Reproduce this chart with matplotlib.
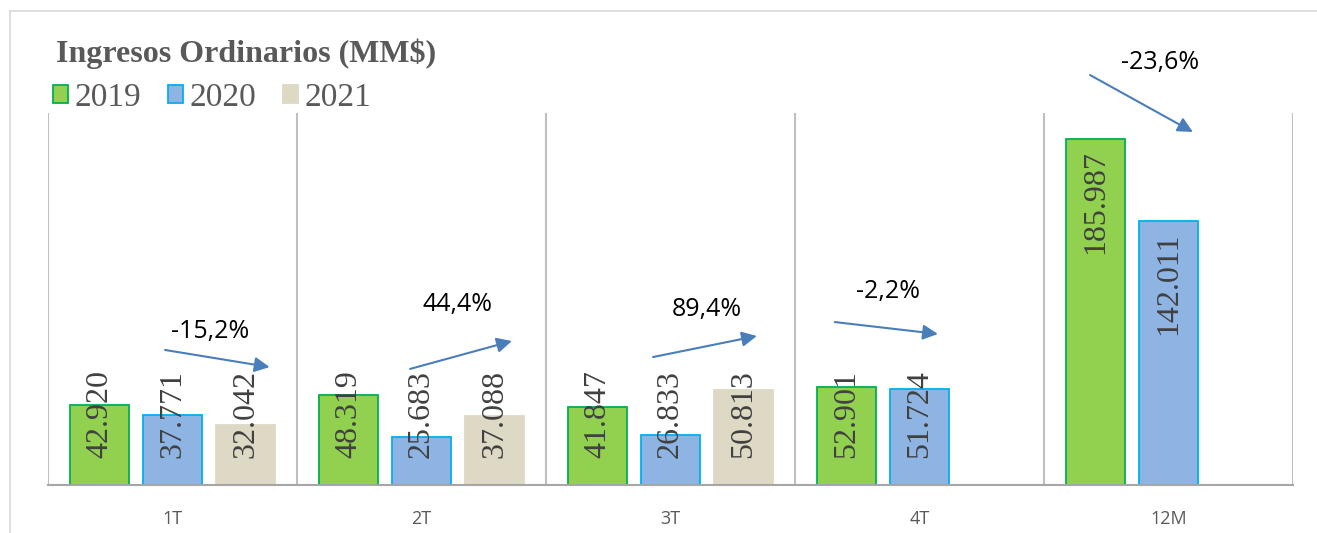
import matplotlib.pyplot as plt
from matplotlib.lines import Line2D
from matplotlib.patches import Patch

# data
periods = ["1T", "2T", "3T", "4T", "12M"]
years = ["2019", "2020", "2021"]
v2019 = [42.920, 48.319, 41.847, 52.901, 185.987]
v2020 = [37.771, 25.683, 26.833, 51.724, 142.011]
v2021 = [32.042, 37.088, 50.813, None, None]
labels_2019 = ["42.920", "48.319", "41.847", "52.901", "185.987"]
labels_2020 = ["37.771", "25.683", "26.833", "51.724", "142.011"]
labels_2021 = ["32.042", "37.088", "50.813", "", ""]
changes = ["-15,2%", "44,4%", "89,4%", "-2,2%", "-23,6%"]

# arrow annotations (start x, start y, end x, end y, label x, label y) in data units
arrows = [
    (-0.03, 72.6, 0.39, 63.4, 0.15, 82.3),
    (0.954, 62.4, 1.363, 77.4, 1.143, 97.3),
    (1.93, 68.8, 2.347, 80.1, 2.147, 94.6),
    (2.66, 87.6, 3.074, 81.2, 2.873, 104.3),
    (3.685, 220.4, 4.098, 189.8, 3.966, 227.4),
]

fills = ["#92D050", "#8EB4E3", "#DDD9C4"]
edges = ["#00B050", "#00B0F0", "#DDD9C4"]
serif = ["Liberation Serif", "DejaVu Serif"]

fig = plt.figure(figsize=(13.17, 5.33), dpi=100)
ax = fig.add_axes([48 / 1317, 48 / 533, 1245 / 1317, 372 / 533])

# outer chart border (top and left)
fig.add_artist(Line2D([10 / 1317, 1.0], [1 - 11 / 533, 1 - 11 / 533],
                      transform=fig.transFigure, color="#D9D9D9", lw=1.2))
fig.add_artist(Line2D([10 / 1317, 10 / 1317], [0, 1 - 11 / 533],
                      transform=fig.transFigure, color="#D9D9D9", lw=1.2))

offs = [-0.293, 0.0, 0.293]
width = 0.237
series = [v2019, v2020, v2021]
lab_sets = [labels_2019, labels_2020, labels_2021]
for s, (vals, labs) in enumerate(zip(series, lab_sets)):
    for i, v in enumerate(vals):
        if v is None:
            continue
        x = i + offs[s]
        ax.bar(x, v, width, color=fills[s], edgecolor=edges[s], linewidth=1.3, zorder=2)
        if v > 100:
            ax.text(x, v - 6, labs[i], rotation=90, ha="center", va="top",
                    fontsize=23, family=serif, color="#404040", zorder=3)
        else:
            ax.text(x, 14.5, labs[i], rotation=90, ha="center", va="bottom",
                    fontsize=23, family=serif, color="#404040", zorder=3)

for (x0, y0, x1, y1, lx, ly), txt in zip(arrows, changes):
    ax.annotate("", xy=(x1, y1), xytext=(x0, y0), annotation_clip=False,
                arrowprops=dict(arrowstyle="-|>,head_length=0.9,head_width=0.45",
                                color="#4A7EBB", lw=1.5, shrinkA=0, shrinkB=0))
    ax.text(lx, ly, txt, ha="center", va="center", fontsize=18,
            family="Open Sans", color="black", clip_on=False)

for xs in [-0.5, 0.5, 1.5, 2.5, 3.5, 4.5]:
    ax.axvline(xs, color="#BFBFBF", lw=1.5, zorder=1)

ax.set_xlim(-0.5, 4.5)
ax.set_ylim(0, 200)
ax.set_xticks(range(len(periods)))
ax.set_xticklabels(periods, fontsize=13, family="Open Sans", color="#595959")
ax.tick_params(axis="x", length=0, pad=18)
ax.set_yticks([])
for side in ["top", "right", "left"]:
    ax.spines[side].set_visible(False)
ax.spines["bottom"].set_color("#A6A6A6")
ax.spines["bottom"].set_linewidth(1.5)

fig.text(56 / 1317, 1 - 54 / 533, "Ingresos Ordinarios (MM$)", fontsize=23,
         fontweight="bold", family=serif, color="#595959", va="center")

handles = [Patch(facecolor=fills[k], edgecolor=edges[k], linewidth=1.3) for k in range(3)]
fig.legend(handles, years, loc="center left", bbox_to_anchor=(43 / 1317, 1 - 98 / 533),
           ncol=3, frameon=False, prop={"family": serif, "size": 24},
           handlelength=0.45, handleheight=0.45, handletextpad=0.2, columnspacing=0.8,
           labelcolor="#595959", borderaxespad=0, borderpad=0.3)

fig.savefig("out.png", dpi=100)
